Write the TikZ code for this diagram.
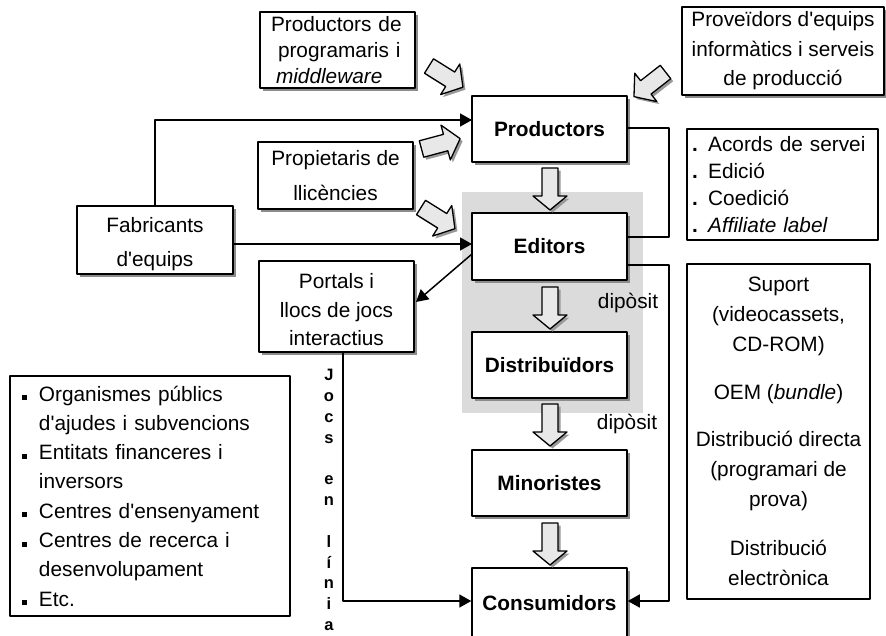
\documentclass[tikz,border=0pt]{standalone}
\usepackage{fontspec}
\setmainfont{Liberation Sans}[Ligatures=TeXOff]
\usetikzlibrary{shadows,arrows.meta}
\newcommand{\fsz}{\fontsize{20.8}{25}\selectfont}
\newcommand{\bul}{\makebox[17pt][l]{\rule[1pt]{5pt}{5pt}}}
\newcommand{\nobul}{\hspace*{17pt}}
\begin{document}
\begin{tikzpicture}[x=1pt,y=-1pt,line join=round,
  shad/.style={drop shadow={shadow xshift=3pt,shadow yshift=-3pt,fill=black!45,opacity=1}},
  box/.style={draw,line width=1.5pt,fill=white,minimum width=155pt,inner sep=0pt,align=center,font=\fsz,shad},
  nbox/.style={draw,line width=1.5pt,fill=white,inner sep=0pt,align=center,font=\fsz},
  bold/.style={font=\fsz\bfseries},
  conn/.style={line width=1.5pt,-{Triangle[length=12pt,width=13pt]}},
  plain/.style={line width=1.5pt},
  blk/.style={line width=1.3pt,fill=gray!18,drop shadow={shadow xshift=2.5pt,shadow yshift=-2.5pt,fill=black!40,opacity=1}},
  dwn/.pic={\draw[blk] (0,-8) -- (28,-8) -- (28,-17) -- (42,0) -- (28,17) -- (28,8) -- (0,8) -- cycle;},
  sla/.pic={\draw[blk] (0,-8.5) -- (25,-8.5) -- (25,-18) -- (40,0) -- (25,18) -- (25,8.5) -- (0,8.5) -- cycle;}
]
\useasboundingbox (0,0) rectangle (886,635);
\clip (0,0) rectangle (886,635);
\fill[white] (0,0) rectangle (886,635);

% grey region
\fill[gray!28] (462,192) rectangle (643,413);

% boxes
\node[box,minimum height=76pt,align=left,text width=133pt,font=\fontsize{20.8}{26}\selectfont] (pp) at (337.5,50)
  {Productors de\\ \hspace*{7pt}programaris i\\ \hspace*{5pt}\textit{middleware}};
\node[box,minimum width=202pt,minimum height=88pt,font=\fontsize{20.8}{29.5}\selectfont] (prov) at (783,51)
  {Proveïdors d'equips\\ informàtics i serveis\\ de producció};
\node[box,minimum height=66pt,bold] (prod) at (549.5,129) {Productors};
\node[nbox,minimum width=191pt,minimum height=111pt,text width=181pt,align=left,font=\fontsize{20.8}{27}\selectfont] (acc) at (782.5,184.5)
  {{\bfseries.} Acords de servei\\ {\bfseries.} Edició\\ {\bfseries.} Coedició\\ {\bfseries.} \textit{Affiliate label}};
\node[box,minimum height=67pt,font=\fontsize{20.8}{35}\selectfont] (prop) at (335.5,175.5) {Propietaris de\\ llicències};
\node[box,minimum width=156pt,minimum height=68pt,font=\fontsize{20.8}{34}\selectfont] (fab) at (155,240) {\rule{0pt}{24pt}Fabricants\\ d'equips};
\node[box,minimum height=67pt,bold] (edit) at (549.5,246.5) {Editors};
\node[box,minimum height=91pt,font=\fontsize{20.8}{28.5}\selectfont] (port) at (336.5,306.5) {\rule{0pt}{22pt}Portals i\\ llocs de jocs\\ interactius};
\node[nbox,minimum width=183pt,minimum height=335pt,font=\fontsize{20.8}{30}\selectfont] (sup) at (778.5,431.5)
  {Suport\\ (videocassets,\\ CD-ROM)\\[18pt] OEM (\textit{bundle})\\[17pt] Distribució directa\\ (programari de\\ prova)\\[19pt] Distribució\\ electrònica};
\node[box,minimum height=66pt,bold] (dist) at (549.5,365) {Distribuïdors};
\node[box,minimum height=66pt,bold] (mino) at (549.5,483) {Minoristes};
\node[box,minimum height=70pt,bold] (cons) at (549.5,603) {Consumidors};
\node[nbox,minimum width=280pt,minimum height=240pt,text width=256pt,align=left,font=\fontsize{20.8}{29.3}\selectfont] (lst) at (150,496)
  {\bul Organismes públics\\ \nobul d'ajudes i subvencions\\ \bul Entitats financeres i\\ \nobul inversors\\ \bul Centres d'ensenyament\\ \bul Centres de recerca i\\ \nobul desenvolupament\\ \bul Etc.};

% labels
\node[font=\fsz,inner sep=0pt] (dep1) at (628,303) {dipòsit};
\node[font=\fsz,inner sep=0pt] (dep2) at (627,424) {dipòsit};
\node[font=\fontsize{16.5}{20.8}\selectfont\bfseries,align=center,inner sep=0pt] (jocs) at (329,500)
  {J\\o\\c\\s\\[20.8pt]e\\n\\[20.8pt]l\\í\\n\\i\\a};

% connectors
\coordinate (pa) at (472,120);
\draw[conn] (fab.north) |- (pa);
\coordinate (eb) at (472,244);
\draw[conn] (fab.east |- eb) -- (eb);
\coordinate (e1) at (472,254);
\coordinate (p1) at (416,302);
\draw[conn] (e1) -- (p1);
\coordinate (b1) at (669,128);
\coordinate (b2) at (669,237);
\draw[plain] (prod.east |- b1) -- (b1) -- (b2) -- (edit.east |- b2);
\coordinate (c1) at (669,265);
\coordinate (c2) at (669,601);
\draw[conn] (edit.east |- c1) -- (c1) -- (c2) -- (cons.east |- c2);
\coordinate (d1) at (343,352);
\coordinate (d2) at (343,601);
\draw[conn] (port.south -| d1) -- (d2) -- (cons.west |- d2);

% block arrows
\pic[rotate=-90] at (550,168) {dwn};
\pic[rotate=-90] at (550,287) {dwn};
\pic[rotate=-90] at (550,404) {dwn};
\pic[rotate=-90] at (550,523) {dwn};
\pic[rotate=-32] at (429,66) {sla};
\pic[rotate=15] at (421.5,149) {sla};
\pic[rotate=-32] at (421,207.5) {sla};
\pic[rotate=218] at (665.5,72) {sla};
\end{tikzpicture}
\end{document}
